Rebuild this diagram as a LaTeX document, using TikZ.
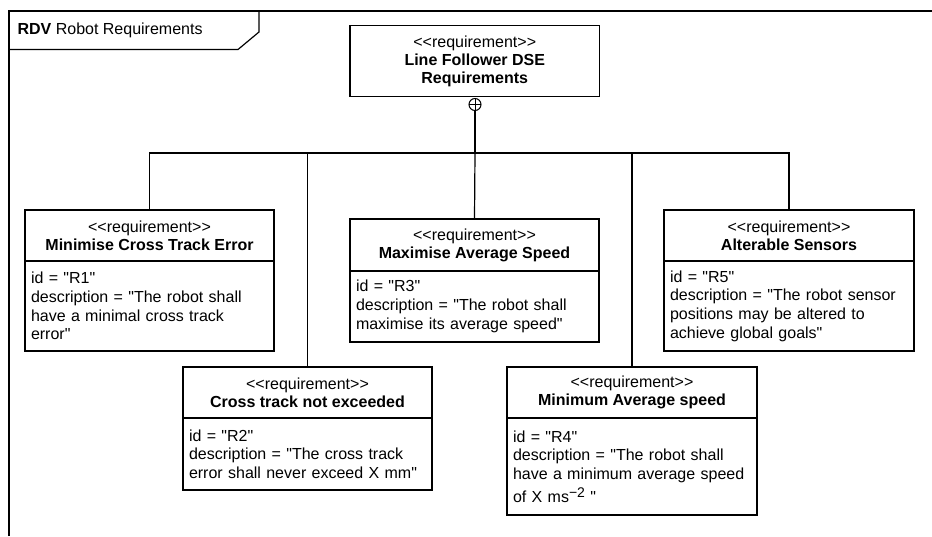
\documentclass[tikz,border=0pt]{standalone}
\usepackage{fontspec}
\newfontfamily\umlfont{Liberation Sans}
\usetikzlibrary{positioning}

\begin{document}
\begin{tikzpicture}[x=1pt, y=-1pt, line width=1.2pt,
  reqhead/.style={draw, minimum width=249pt, minimum height=51pt, inner sep=0pt, outer sep=0pt,
    align=center, font=\umlfont\fontsize{16}{18}\selectfont},
  reqbody/.style={draw, text width=237pt, inner xsep=6pt, inner ysep=0pt, outer sep=0pt,
    align=left, font=\umlfont\fontsize{16}{18.7}\selectfont}]
\useasboundingbox (0,0) rectangle (932,536);
\draw (9,536) -- (9,11) -- (932,11);
\draw (259,11) -- (259,32) -- (238,49.5) -- (9,49.5);
\node[anchor=west, inner sep=0pt, font=\umlfont\fontsize{16}{18}\selectfont] (title) at (17,30) {\textbf{RDV} Robot Requirements};
\node[reqhead, minimum width=249.5pt, minimum height=71pt] (top) at (474.75,61)
  {<<requirement>>\\\textbf{Line Follower DSE}\\\textbf{Requirements}};
\node[draw, circle, minimum size=12pt, inner sep=0pt, outer sep=0pt, line width=1pt] (cplus) at (475,104.5) {};
\draw[line width=1pt] (cplus.north) -- (cplus.south) (cplus.west) -- (cplus.east);
\node[reqhead] (r1h) at (149.5,235.5) {<<requirement>>\\\textbf{Minimise Cross Track Error}};
\node[reqbody, below=0pt of r1h, minimum height=90pt] (r1)
  {id = "R1"\\description = "The robot shall\\have a minimal cross track\\error"};
\node[reqhead] (r2h) at (307.5,392.5) {<<requirement>>\\\textbf{Cross track not exceeded}};
\node[reqbody, below=0pt of r2h, minimum height=72pt] (r2)
  {id = "R2"\\description = "The cross track\\error shall never exceed X mm"};
\node[reqhead, minimum height=52pt] (r3h) at (474.5,245) {<<requirement>>\\\textbf{Maximise Average Speed}};
\node[reqbody, below=0pt of r3h, minimum height=71pt] (r3)
  {id = "R3"\\description = "The robot shall\\maximise its average speed"};
\node[reqhead, minimum width=250pt] (r4h) at (632,392.5) {<<requirement>>\\\textbf{Minimum Average speed}};
\node[reqbody, below=0pt of r4h, text width=238pt, minimum height=97pt] (r4)
  {id = "R4"\\description = "The robot shall\\have a minimum average speed\\[4pt]of X ms\raisebox{5pt}{\fontsize{14}{14}\selectfont −2} "};
\node[reqhead, minimum width=250pt] (r5h) at (789,235.5) {<<requirement>>\\\textbf{Alterable Sensors}};
\node[reqbody, below=0pt of r5h, text width=238pt, minimum height=90pt] (r5)
  {id = "R5"\\description = "The robot sensor\\positions may be altered to\\achieve global goals"};
\coordinate (bus) at (475,153);
\draw (cplus.south) -- (bus);
\draw (bus) -| (r1h.north);
\draw (bus) -| (r2h.north);
\draw (bus) -- (r3h.north);
\draw (bus) -| (r4h.north);
\draw (bus) -| (r5h.north);
\end{tikzpicture}
\end{document}
